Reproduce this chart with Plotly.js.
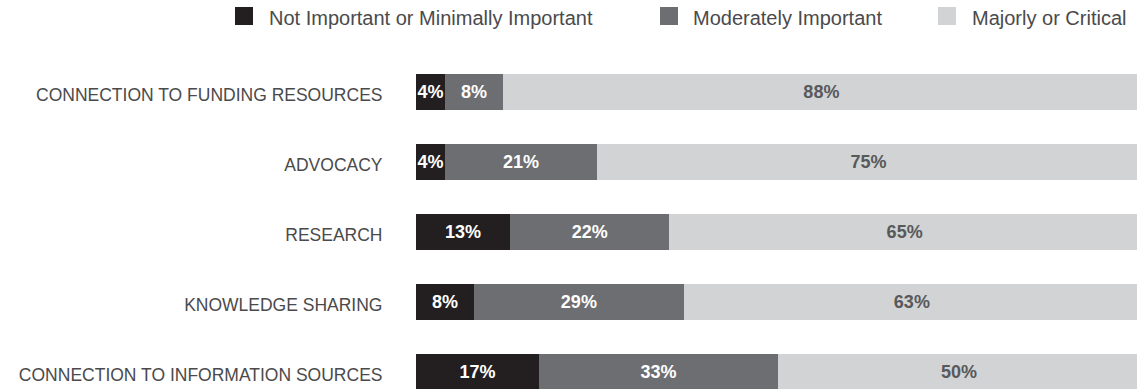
<!DOCTYPE html>
<html>
<head>
<meta charset="utf-8">
<script src="https://cdn.plot.ly/plotly-3.0.1.min.js"></script>
<style>html,body{margin:0;padding:0;background:#fff;}#chart{width:1137px;height:389px;}</style>
</head>
<body>
<div id="chart"></div>
<script>
var categories = [
  "CONNECTION TO FUNDING RESOURCES",
  "ADVOCACY",
  "RESEARCH",
  "KNOWLEDGE SHARING",
  "CONNECTION TO INFORMATION SOURCES"
];
var seriesNames = ["Not Important or Minimally Important", "Moderately Important", "Majorly or Critical"];
var notImportant = [4, 4, 13, 8, 17];
var moderately = [8, 21, 22, 29, 33];
var majorly = [88, 75, 65, 63, 50];

var colors = ["#231f20", "#6d6e71", "#d1d3d4"];
var textColors = ["#ffffff", "#ffffff", "#58595b"];
var seriesValues = [notImportant, moderately, majorly];

var W = 1137, H = 389, ML = 416, MR = 0, MT = 57, MB = 0;
var PW = W - ML - MR, PH = H - MT - MB;
function px(x) { return (x - ML) / PW; }
function py(y) { return (H - MB - y) / PH; }

var traces = seriesValues.map(function (vals, i) {
  return {
    type: "bar",
    orientation: "h",
    name: seriesNames[i],
    y: categories,
    x: vals,
    marker: { color: colors[i] },
    text: vals.map(function (v) { return v + "%"; }),
    textposition: "inside",
    insidetextanchor: "middle",
    textangle: 0,
    textfont: { family: "Liberation Sans, Arial, sans-serif", size: 18, color: textColors[i], weight: "bold" },
    hoverinfo: "none",
    showlegend: false
  };
});

// legend (manual)
var legendSq = [235, 660, 938];
var legendTx = [269, 693, 972];
var shapes = [], annotations = [];
for (var i = 0; i < 3; i++) {
  shapes.push({
    type: "rect", xref: "paper", yref: "paper",
    x0: px(legendSq[i]), x1: px(legendSq[i] + 18),
    y0: py(25), y1: py(7),
    fillcolor: colors[i], line: { width: 0 }
  });
  annotations.push({
    xref: "paper", yref: "paper",
    x: px(legendTx[i] - 2), y: py(18),
    xanchor: "left", yanchor: "middle",
    text: seriesNames[i], showarrow: false,
    font: { family: "Liberation Sans, Arial, sans-serif", size: 20, color: "#4a4a4c" }
  });
}

var layout = {
  width: W, height: H,
  margin: { l: ML, r: MR, t: MT, b: MB, pad: 0 },
  barmode: "stack",
  bargap: 0.476,
  paper_bgcolor: "#ffffff",
  plot_bgcolor: "#ffffff",
  showlegend: false,
  uniformtext: { mode: "show", minsize: 18 },
  xaxis: {
    range: [0, 99.6], visible: false, fixedrange: true
  },
  yaxis: {
    type: "category",
    range: [4.243, -0.5],
    showgrid: false, zeroline: false, showline: false,
    ticks: "outside", ticklen: 29, tickcolor: "rgba(0,0,0,0)",
    ticklabelshift: -3,
    tickfont: { family: "Liberation Sans, Arial, sans-serif", size: 17.5, color: "#4a4a4c" },
    fixedrange: true
  },
  shapes: shapes,
  annotations: annotations
};

Plotly.newPlot("chart", traces, layout, { displayModeBar: false, staticPlot: true });
</script>
</body>
</html>
